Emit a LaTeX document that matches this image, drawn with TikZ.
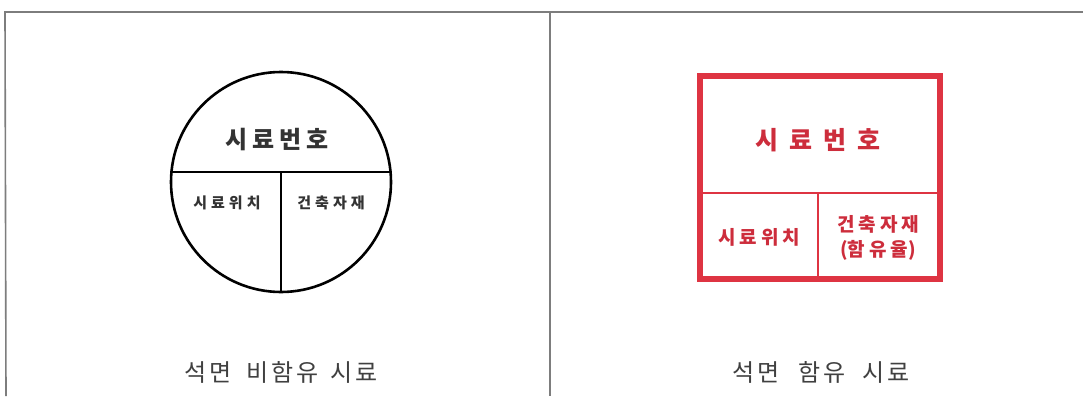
\documentclass[tikz,border=0pt]{standalone}
\usepackage{fontspec}
\newfontfamily\kr{Noto Sans CJK KR}
\definecolor{redline}{RGB}{222,52,66}
\definecolor{redtext}{RGB}{205,45,60}
\definecolor{frame}{RGB}{125,125,125}
\begin{document}
\begin{tikzpicture}[x=1pt,y=-1pt,
  framestyle/.style={draw=frame,line width=1.6pt},
  blackline/.style={draw=black,line width=2.6pt},
  redouter/.style={draw=redline,line width=5.5pt},
  redinner/.style={draw=redline,line width=2.8pt},
  bigtxt/.style={font=\kr\bfseries\fontsize{24}{26}\selectfont,text=black!80,inner sep=0},
  smalltxt/.style={font=\kr\bfseries\fontsize{15}{17}\selectfont,text=black!80,inner sep=0},
  rbig/.style={font=\kr\bfseries\fontsize{25}{28}\selectfont,text=redtext,inner sep=0},
  rsmall/.style={font=\kr\bfseries\fontsize{19}{25}\selectfont,text=redtext,inner sep=0,align=center},
  caption/.style={font=\kr\fontsize{24}{26}\selectfont,text=black!75,inner sep=0}]
\useasboundingbox (0,0) rectangle (1083,396);
\fill[white] (0,0) rectangle (1083,396);
% frame
\coordinate (tl) at (5,12);
\coordinate (tr) at (1083,12);
\coordinate (bl) at (6,396);
\coordinate (tm) at (550,12);
\coordinate (bm) at (550,396);
\draw[framestyle] (tr) -- (tl) -- (bl);
\draw[framestyle] (tm) -- (bm);
% circle
\node[blackline,circle,minimum size=220pt,inner sep=0] (circ) at (281,182) {};
\coordinate (cl) at (171.5,172);
\coordinate (cr) at (390.5,172);
\coordinate (cm) at (281,172);
\draw[blackline] (cl) -- (cr);
\draw[blackline] (cm) -- (circ.south);
\node[bigtxt] (c1) at (277,140) {시\kern5pt 료\kern5pt 번\kern5pt 호};
\node[smalltxt] (c2) at (227,203) {시\kern4pt 료\kern4pt 위\kern4pt 치};
\node[smalltxt] (c3) at (331,203) {건\kern4pt 축\kern4pt 자\kern4pt 재};
% rectangle
\coordinate (r1) at (700,76);
\coordinate (r2) at (940,279);
\draw[redouter] (r1) rectangle (r2);
\coordinate (rl) at (700,193);
\coordinate (rr) at (940,193);
\coordinate (rt) at (818,193);
\coordinate (rb) at (818,279);
\draw[redinner] (rl) -- (rr);
\draw[redinner] (rt) -- (rb);
\node[rbig] (t1) at (818,140) {시\kern11pt 료\kern11pt 번\kern11pt 호};
\node[rsmall] (t2) at (759,237) {시\kern4pt 료\kern4pt 위\kern4pt 치};
\node[rsmall] (t3) at (878,238) {건\kern4pt 축\kern4pt 자\kern4pt 재\\(함\kern4pt 유\kern4pt 율)};
% captions
\node[caption] (cap1) at (281,372) {석\kern3pt 면\kern15pt 비\kern3pt 함\kern3pt 유\kern12pt 시\kern3pt 료};
\node[caption] (cap2) at (821,372) {석\kern3pt 면\kern19pt 함\kern3pt 유\kern16pt 시\kern3pt 료};
\end{tikzpicture}
\end{document}
